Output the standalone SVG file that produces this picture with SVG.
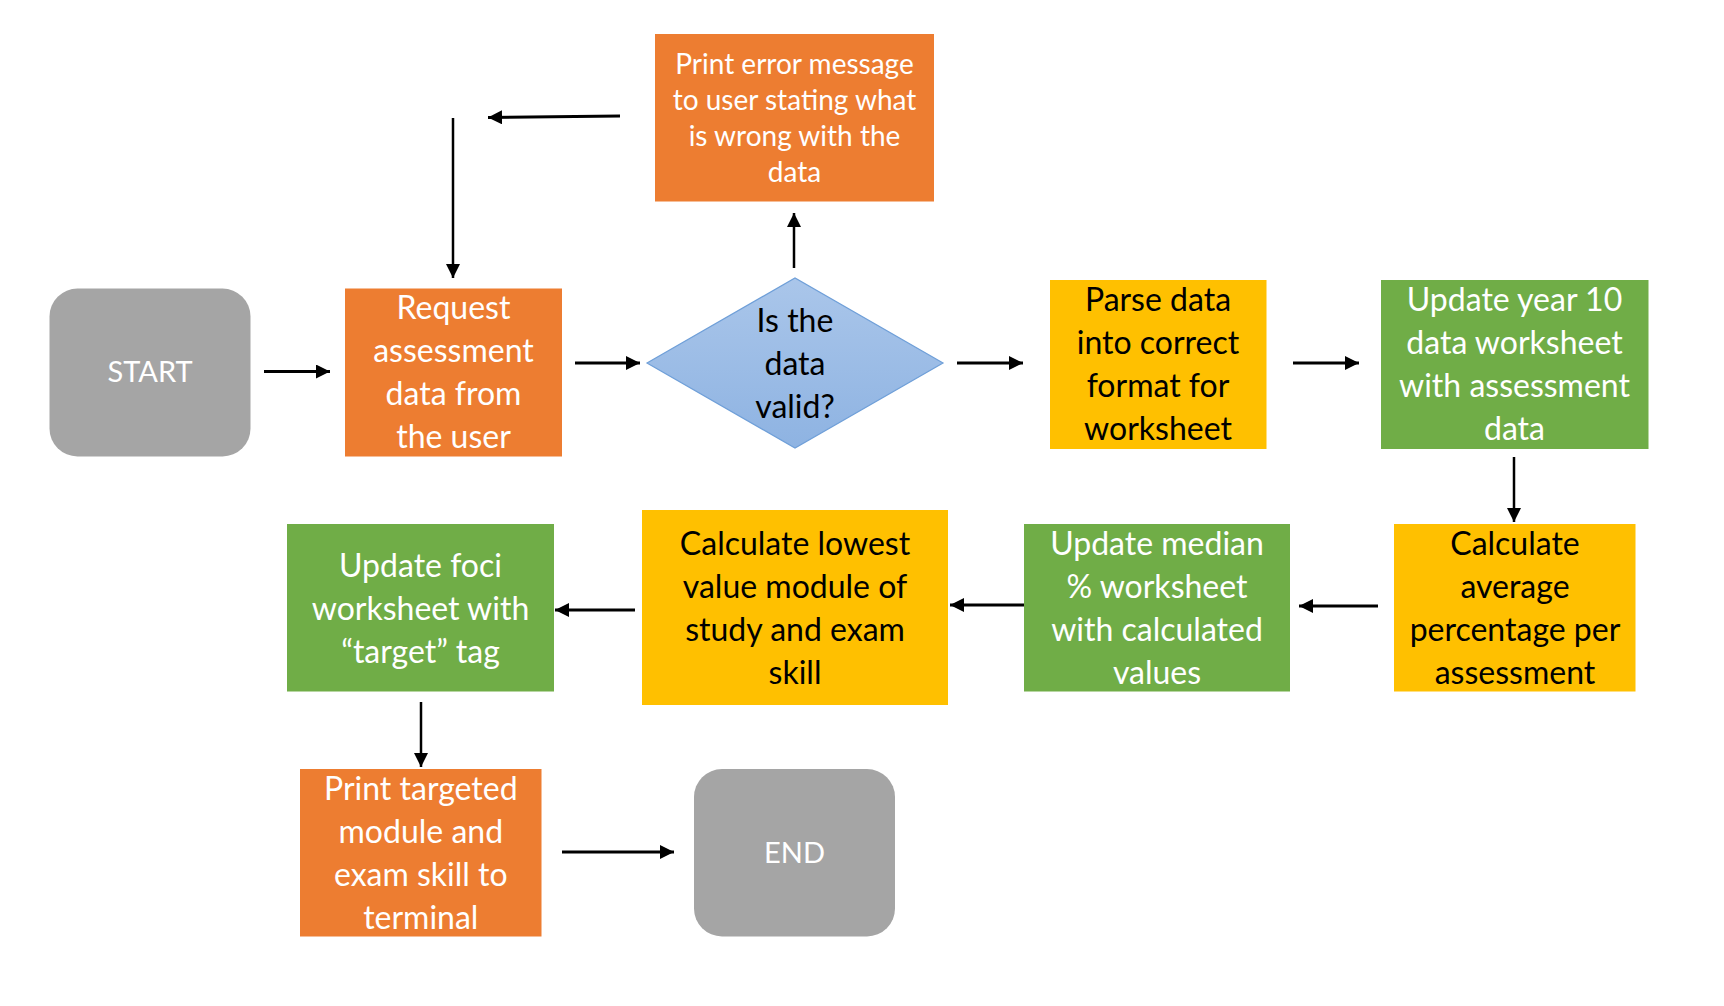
<svg xmlns="http://www.w3.org/2000/svg" width="1724" height="1006" viewBox="0 0 1724 1006">
<style>
.t{font-family:Lato,"Open Sans","Liberation Sans",sans-serif;font-size:32px;text-anchor:middle}
.w{fill:#ffffff}
.k{fill:#000000}
.s{font-size:28px}
.g{font-size:29px}
.orange{fill:#ED7D31}
.yellow{fill:#FFC000}
.green{fill:#70AD47}
.gray{fill:#A5A5A5}
.c{stroke:#000;fill:none;stroke-width:3}
.c2{stroke:#000;fill:none;stroke-width:2.5}
</style>
<defs>
<marker id="ah" markerUnits="userSpaceOnUse" markerWidth="14" markerHeight="14" viewBox="0 0 12 12" refX="12" refY="6" orient="auto">
<path d="M0,0 L12,6 L0,12 z" fill="#000"/>
</marker>
<linearGradient id="dg" x1="0" y1="0" x2="0" y2="1">
<stop offset="0" stop-color="#AAC6EA"/>
<stop offset="1" stop-color="#8EB3E2"/>
</linearGradient>
</defs>
<rect width="1724" height="1006" fill="#fff"/>

<g id="connectors">
<line class="c" x1="264" y1="371.5" x2="330" y2="371.5" marker-end="url(#ah)"/>
<line class="c" x1="575" y1="363" x2="640" y2="363" marker-end="url(#ah)"/>
<line class="c" x1="957" y1="363" x2="1023" y2="363" marker-end="url(#ah)"/>
<line class="c" x1="1293" y1="363" x2="1359" y2="363" marker-end="url(#ah)"/>
<line class="c2" x1="1514" y1="457" x2="1514" y2="522" marker-end="url(#ah)"/>
<line class="c" x1="1378" y1="606" x2="1299" y2="606" marker-end="url(#ah)"/>
<line class="c" x1="1029" y1="605" x2="950" y2="605" marker-end="url(#ah)"/>
<line class="c" x1="635" y1="610" x2="555" y2="610" marker-end="url(#ah)"/>
<line class="c2" x1="421" y1="702" x2="421" y2="767" marker-end="url(#ah)"/>
<line class="c" x1="562" y1="852" x2="674" y2="852" marker-end="url(#ah)"/>
<line class="c2" x1="794" y1="268" x2="794" y2="213" marker-end="url(#ah)"/>
<line class="c" x1="620" y1="116" x2="488" y2="117.5" marker-end="url(#ah)"/>
<line class="c2" x1="453" y1="118" x2="453" y2="278" marker-end="url(#ah)"/>
</g>

<g id="start">
<rect class="gray" x="49.5" y="288.5" width="201" height="168" rx="28"/>
<text class="t w g" x="150" y="382">START</text>
</g>

<g id="request">
<rect class="orange" x="345" y="288.5" width="217" height="168"/>
<text class="t w" x="453.5" y="318.5">Request</text>
<text class="t w" x="453.5" y="361.5">assessment</text>
<text class="t w" x="453.5" y="404.5">data from</text>
<text class="t w" x="453.5" y="447.5">the user</text>
</g>

<g id="decision">
<polygon points="647,363 795,278 943,363 795,448" fill="url(#dg)" stroke="#6F9FD8" stroke-width="1.2"/>
<text class="t k" x="795" y="331.5">Is the</text>
<text class="t k" x="795" y="374.5">data</text>
<text class="t k" x="795" y="417.5">valid?</text>
</g>

<g id="error">
<rect class="orange" x="655" y="34" width="279" height="167.5"/>
<text class="t w s" x="794.5" y="73.5">Print error message</text>
<text class="t w s" x="794.5" y="109.5">to user stating what</text>
<text class="t w s" x="794.5" y="145.5">is wrong with the</text>
<text class="t w s" x="794.5" y="181.5">data</text>
</g>

<g id="parse">
<rect class="yellow" x="1050" y="280" width="216.5" height="169"/>
<text class="t k" x="1158" y="310.5">Parse data</text>
<text class="t k" x="1158" y="353.5">into correct</text>
<text class="t k" x="1158" y="396.5">format for</text>
<text class="t k" x="1158" y="439.5">worksheet</text>
</g>

<g id="update-year10">
<rect class="green" x="1381" y="280" width="267.5" height="169"/>
<text class="t w" x="1514.5" y="310.5">Update year 10</text>
<text class="t w" x="1514.5" y="353.5">data worksheet</text>
<text class="t w" x="1514.5" y="396.5">with assessment</text>
<text class="t w" x="1514.5" y="439.5">data</text>
</g>

<g id="calc-average">
<rect class="yellow" x="1394" y="524" width="241.5" height="167.5"/>
<text class="t k" x="1515" y="554.5">Calculate</text>
<text class="t k" x="1515" y="597.5">average</text>
<text class="t k" x="1515" y="640.5">percentage per</text>
<text class="t k" x="1515" y="683.5">assessment</text>
</g>

<g id="update-median">
<rect class="green" x="1024" y="524" width="266" height="167.5"/>
<text class="t w" x="1157" y="554.5">Update median</text>
<text class="t w" x="1157" y="597.5">% worksheet</text>
<text class="t w" x="1157" y="640.5">with calculated</text>
<text class="t w" x="1157" y="683.5">values</text>
</g>

<g id="calc-lowest">
<rect class="yellow" x="642" y="510" width="306" height="195"/>
<text class="t k" x="795" y="554.5">Calculate lowest</text>
<text class="t k" x="795" y="597.5">value module of</text>
<text class="t k" x="795" y="640.5">study and exam</text>
<text class="t k" x="795" y="683.5">skill</text>
</g>

<g id="update-foci">
<rect class="green" x="287" y="524" width="267" height="167.5"/>
<text class="t w" x="420.5" y="576.5">Update foci</text>
<text class="t w" x="420.5" y="619.5">worksheet with</text>
<text class="t w" x="420.5" y="662.5">“target” tag</text>
</g>

<g id="print-targeted">
<rect class="orange" x="300" y="769" width="241.5" height="167.5"/>
<text class="t w" x="420.8" y="799.5">Print targeted</text>
<text class="t w" x="420.8" y="842.5">module and</text>
<text class="t w" x="420.8" y="885.5">exam skill to</text>
<text class="t w" x="420.8" y="928.5">terminal</text>
</g>

<g id="end">
<rect class="gray" x="694" y="769" width="201" height="167.5" rx="28"/>
<text class="t w g" x="794.5" y="863">END</text>
</g>
</svg>
